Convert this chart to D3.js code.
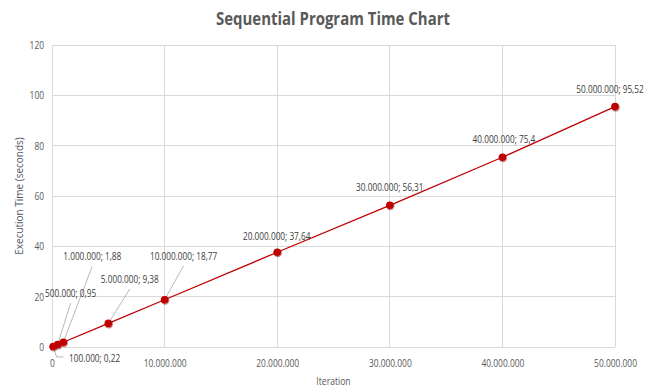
<!DOCTYPE html>
<html><head><meta charset="utf-8">
<script src="https://cdn.jsdelivr.net/npm/d3@7"></script>
<style>
html,body{margin:0;padding:0;background:#fff;}
svg{display:block;}
text{font-family:"Open Sans","Noto Sans",sans-serif;}
</style></head>
<body><svg id="chart" width="657" height="390"></svg>
<script>
const iterations = [100000, 500000, 1000000, 5000000, 10000000, 20000000, 30000000, 40000000, 50000000];
const times = [0.22, 0.95, 1.88, 9.38, 18.77, 37.64, 56.31, 75.4, 95.52];
const pointLabels = ["100.000; 0,22", "500.000; 0,95", "1.000.000; 1,88", "5.000.000; 9,38", "10.000.000; 18,77", "20.000.000; 37,64", "30.000.000; 56,31", "40.000.000; 75,4", "50.000.000; 95,52"];
const xTicks = [0, 10000000, 20000000, 30000000, 40000000, 50000000];
const xTickLabels = ["0", "10.000.000", "20.000.000", "30.000.000", "40.000.000", "50.000.000"];
const yTicks = [0, 20, 40, 60, 80, 100, 120];
const title = "Sequential Program Time Chart";
const xTitle = "Iteration";
const yTitle = "Execution Time (seconds)";

// label placement (offset of label centre from its point), layout only
const labelLayout = [
  {dx: 41.5, dy: 11.5, leader: "side"},
  {dx: 13, dy: -51.5, leader: "down"},
  {dx: 29, dy: -86, leader: "down"},
  {dx: 21.5, dy: -44.5, leader: "down"},
  {dx: 19, dy: -44, leader: "down"},
  {dx: -0.5, dy: -16.5},
  {dx: 0, dy: -18.5},
  {dx: 1.5, dy: -18},
  {dx: -5, dy: -17}
];

const svg = d3.select("#chart");
const x = d3.scaleLinear().domain([0, 50000000]).range([52, 615]);
const y = d3.scaleLinear().domain([0, 120]).range([347, 45]);
const grey = "#595959";
const LABEL_SX = 0.75;

// condense text to mimic a narrow (Calibri-like) face
function condense(sel, f) {
  sel.each(function () {
    const w = this.getComputedTextLength();
    if (w > 0) d3.select(this).attr("textLength", w * f).attr("lengthAdjust", "spacingAndGlyphs");
  });
}

// grid
svg.append("g").selectAll("line").data(yTicks).join("line")
  .attr("x1", x(0)).attr("x2", x(50000000))
  .attr("y1", d => y(d)).attr("y2", d => y(d))
  .attr("stroke", "#D9D9D9").attr("stroke-width", 1).attr("shape-rendering", "crispEdges");
svg.append("g").selectAll("line").data(xTicks).join("line")
  .attr("x1", d => x(d)).attr("x2", d => x(d))
  .attr("y1", y(0)).attr("y2", y(120))
  .attr("stroke", "#D9D9D9").attr("stroke-width", 1).attr("shape-rendering", "crispEdges");

// axes
const yAxis = d3.axisLeft(y).tickValues(yTicks).tickSize(0).tickPadding(8);
const gy = svg.append("g").attr("transform", `translate(${x(0)},0)`).call(yAxis);
gy.select(".domain").remove();
gy.attr("font-family", null);
gy.selectAll("text").attr("fill", grey).attr("font-size", 10.5).call(condense, 0.8);

const xAxis = d3.axisBottom(x).tickValues(xTicks).tickSize(0).tickPadding(13)
  .tickFormat((d, i) => xTickLabels[i]);
const gx = svg.append("g").attr("transform", `translate(0,${y(0)})`).call(xAxis);
gx.select(".domain").remove();
gx.attr("font-family", null);
gx.selectAll("text").attr("fill", grey).attr("font-size", 10.5).call(condense, 0.8);

// titles
svg.append("text").attr("x", 333).attr("y", 25).attr("text-anchor", "middle")
  .attr("font-size", 18).attr("font-weight", "bold").attr("fill", grey).text(title).call(condense, 0.83);
svg.append("text").attr("x", 333.5).attr("y", 385).attr("text-anchor", "middle")
  .attr("font-size", 10.5).attr("fill", grey).text(xTitle).call(condense, 0.82);
svg.append("text").attr("transform", "translate(23,196) rotate(-90)").attr("text-anchor", "middle")
  .attr("font-size", 10.5).attr("fill", "#50596a").text(yTitle).call(condense, 0.95);

const data = iterations.map((v, i) => ({x: v, y: times[i], label: pointLabels[i], lay: labelLayout[i]}));

// leader lines
svg.append("g").selectAll("polyline").data(data.filter(d => d.lay.leader)).join("polyline")
  .attr("points", d => {
    const px = x(d.x), py = y(d.y);
    const lx = px + d.lay.dx, ly = py + d.lay.dy;
    if (d.lay.leader === "side") {
      const left = lx - 27;
      return `${px},${py} ${left - 11},${ly - 1} ${left - 4},${ly - 1}`;
    }
    return `${lx},${ly + 10} ${px},${py}`;
  })
  .attr("fill", "none").attr("stroke", "#A6A6A6").attr("stroke-width", 0.8);

// line
svg.append("path").datum(data)
  .attr("d", d3.line().x(d => x(d.x)).y(d => y(d.y)))
  .attr("fill", "none").attr("stroke", "#C00000").attr("stroke-width", 1.3);

// markers
svg.append("g").selectAll("circle").data(data).join("circle")
  .attr("cx", d => x(d.x) + 0.6).attr("cy", d => y(d.y) + 0.8).attr("r", 4.2)
  .attr("fill", "#8a0000").attr("opacity", 0.45);
svg.append("g").selectAll("circle").data(data).join("circle")
  .attr("cx", d => x(d.x)).attr("cy", d => y(d.y)).attr("r", 3.8)
  .attr("fill", "#C00000");

// labels (horizontally condensed with a scale transform)
svg.append("g").selectAll("text").data(data).join("text")
  .attr("transform", d => `translate(${x(d.x) + d.lay.dx},${y(d.y) + d.lay.dy}) scale(${LABEL_SX},1)`)
  .attr("dy", "0.35em").attr("text-anchor", "middle")
  .attr("font-size", 11).attr("fill", "#404040").text(d => d.label);
</script></body></html>
